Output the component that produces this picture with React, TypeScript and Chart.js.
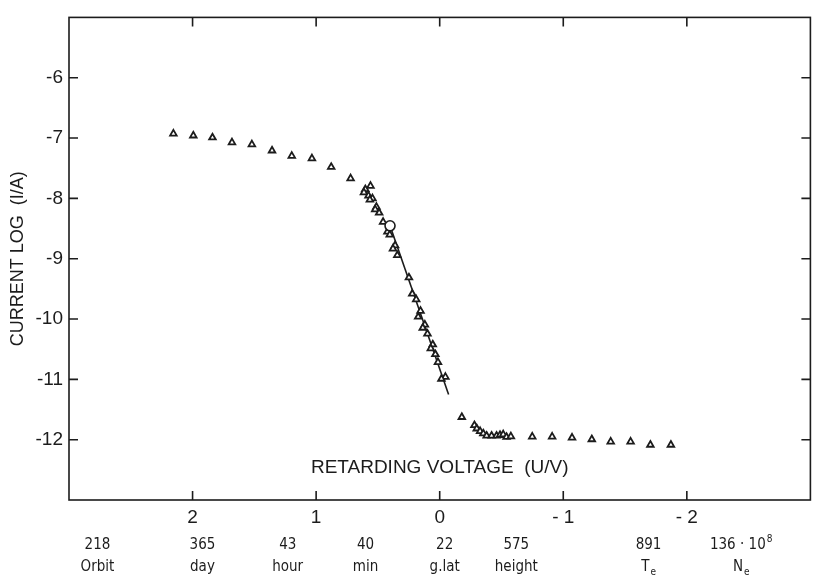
import { useEffect, useRef } from 'react';
import { Chart, registerables } from 'chart.js';

Chart.register(...registerables);

// Measured points: retarding voltage (V) vs log current (I/A)
const voltage = [
  2.155, 1.994, 1.839, 1.681, 1.52, 1.357, 1.197, 1.034, 0.878, 0.721,
  0.56, 0.602, 0.613, 0.576, 0.544, 0.565, 0.512, 0.522, 0.49, 0.458,
  0.423, 0.404, 0.361, 0.378, 0.343, 0.249, 0.222, 0.19, 0.155, 0.174,
  0.12, 0.137, 0.099, 0.056, 0.072, 0.035, 0.014, -0.046, -0.014,
  -0.179, -0.281, -0.3, -0.327, -0.353, -0.38, -0.42, -0.46, -0.488, -0.514,
  -0.541, -0.576, -0.749, -0.91, -1.071, -1.231, -1.384, -1.545, -1.705, -1.871,
];
const logCurrent = [
  -6.927, -6.959, -6.992, -7.073, -7.106, -7.208, -7.296, -7.338, -7.48, -7.67,
  -7.793, -7.849, -7.902, -7.956, -8.0, -8.021, -8.141, -8.184, -8.239, -8.39,
  -8.553, -8.602, -8.78, -8.834, -8.943, -9.312, -9.582, -9.675, -9.865, -9.963,
  -10.093, -10.146, -10.244, -10.423, -10.488, -10.585, -10.715, -10.959, -10.992,
  -11.626, -11.761, -11.816, -11.859, -11.898, -11.935, -11.935, -11.935, -11.924, -11.913,
  -11.956, -11.946, -11.951, -11.951, -11.967, -11.995, -12.033, -12.033, -12.086, -12.086,
];

// Fitted straight line through the retarding region
const fitVoltage = [0.402, -0.072];
const fitLogCurrent = [-8.455, -11.25];

// Marked (circled) point
const markVoltage = [0.402];
const markLogCurrent = [-8.455];

// Axis ticks
const xTickValues = [2, 1, 0, -1, -2];
const yTickValues = [-6, -7, -8, -9, -10, -11, -12];

// Info rows below the chart
const infoValues = ['218', '365', '43', '40', '22', '575', '891', '136 · 10'];
const infoValueSup = ['', '', '', '', '', '', '', '8'];
const infoNames = ['Orbit', 'day', 'hour', 'min', 'g.lat', 'height', 'T', 'N'];
const infoNameSub = ['', '', '', '', '', '', 'e', 'e'];
const infoAtVoltage = [2.77, 1.92, 1.23, 0.6, -0.04, -0.62, -1.69, -2.44];

const INK = '#1c1c1c';
const SANS = "'Liberation Sans', Arial, Helvetica, sans-serif";
const NARROW = "'Liberation Sans Narrow', 'DejaVu Sans Condensed', 'Liberation Sans', sans-serif";

export default function App() {
  const ref = useRef<HTMLCanvasElement>(null);

  useEffect(() => {
    if (!ref.current) return;

    const framePlugin = {
      id: 'framePlugin',
      afterDraw(chart: any) {
        const { ctx, chartArea } = chart;
        const xs = chart.scales.x;
        const ys = chart.scales.y;
        const { left, right, top, bottom } = chartArea;
        ctx.save();
        ctx.strokeStyle = INK;
        ctx.lineWidth = 1.6;
        ctx.strokeRect(left, top, right - left, bottom - top);
        const tl = 9;
        ctx.beginPath();
        xTickValues.forEach((v) => {
          const px = xs.getPixelForValue(v);
          ctx.moveTo(px, bottom);
          ctx.lineTo(px, bottom - tl);
          ctx.moveTo(px, top);
          ctx.lineTo(px, top + tl);
        });
        yTickValues.forEach((v) => {
          const py = ys.getPixelForValue(v);
          ctx.moveTo(left, py);
          ctx.lineTo(left + tl, py);
          ctx.moveTo(right, py);
          ctx.lineTo(right - tl, py);
        });
        ctx.stroke();

        // x axis title inside the plot
        ctx.fillStyle = INK;
        ctx.font = `19px ${SANS}`;
        ctx.textAlign = 'center';
        ctx.textBaseline = 'middle';
        ctx.fillText('RETARDING VOLTAGE  (U/V)', (left + right) / 2, bottom - 32);

        // info rows
        const drawWithScript = (main: string, extra: string, cx: number, cy: number, up: boolean) => {
          ctx.font = `15px ${NARROW}`;
          const wMain = ctx.measureText(main).width;
          ctx.font = `10px ${NARROW}`;
          const wExtra = extra ? ctx.measureText(extra).width + 1 : 0;
          const start = cx - (wMain + wExtra) / 2;
          ctx.textAlign = 'left';
          ctx.font = `15px ${NARROW}`;
          ctx.fillText(main, start, cy);
          if (extra) {
            ctx.font = `10px ${NARROW}`;
            ctx.fillText(extra, start + wMain + 1, up ? cy - 6 : cy + 5);
          }
        };
        ctx.textBaseline = 'middle';
        infoValues.forEach((t, i) => {
          const cx = xs.getPixelForValue(infoAtVoltage[i]);
          drawWithScript(t, infoValueSup[i], cx, 545, true);
          drawWithScript(infoNames[i], infoNameSub[i], cx, 567, false);
        });
        ctx.restore();
      },
    };

    const chart = new Chart(ref.current, {
      type: 'scatter',
      data: {
        datasets: [
          {
            label: 'mark',
            data: markVoltage.map((v, i) => ({ x: v, y: markLogCurrent[i] })),
            pointStyle: 'circle',
            pointRadius: 5,
            pointBorderWidth: 1.6,
            pointBackgroundColor: '#ffffff',
            pointBorderColor: INK,
            order: 0,
          },
          {
            label: 'measured',
            data: voltage.map((v, i) => ({ x: v, y: logCurrent[i] })),
            pointStyle: 'triangle',
            pointRadius: 3.8,
            pointBorderWidth: 1.8,
            pointBackgroundColor: '#ffffff',
            pointBorderColor: INK,
            order: 1,
          },
          {
            label: 'fit',
            data: fitVoltage.map((v, i) => ({ x: v, y: fitLogCurrent[i] })),
            showLine: true,
            borderColor: INK,
            borderWidth: 1.6,
            pointRadius: 0,
            order: 2,
          } as any,
        ],
      },
      options: {
        responsive: false,
        animation: false,
        events: [],
        layout: { padding: { left: 0, right: 5, top: 7, bottom: 0 } },
        plugins: {
          legend: { display: false },
          tooltip: { enabled: false },
          title: { display: false },
        },
        scales: {
          x: {
            type: 'linear',
            min: -3,
            max: 3,
            reverse: true,
            grid: { display: false, drawTicks: false },
            border: { display: false },
            afterBuildTicks: (scale: any) => {
              scale.ticks = xTickValues.map((v) => ({ value: v }));
            },
            afterFit: (scale: any) => {
              scale.height = 76;
            },
            ticks: {
              color: INK,
              padding: 6,
              font: { family: SANS, size: 19 },
              maxRotation: 0,
              autoSkip: false,
              callback: (v: any) => (v < 0 ? '- ' + Math.abs(v) : String(v)),
            },
          },
          y: {
            type: 'linear',
            min: -13,
            max: -5,
            grid: { display: false, drawTicks: false },
            border: { display: false },
            afterBuildTicks: (scale: any) => {
              scale.ticks = yTickValues.map((v) => ({ value: v }));
            },
            afterFit: (scale: any) => {
              scale.width = 69;
            },
            ticks: {
              color: INK,
              padding: 6,
              font: { family: SANS, size: 19 },
              autoSkip: false,
              callback: (v: any) => '-' + Math.abs(v),
            },
            title: {
              display: true,
              text: 'CURRENT LOG  (I/A)',
              color: INK,
              font: { family: SANS, size: 18 },
              padding: { top: 7, bottom: 0 },
            },
          },
        },
      },
      plugins: [framePlugin],
    });

    return () => chart.destroy();
  }, []);

  return (
    <div style={{ position: 'fixed', left: 0, top: 0, width: 817, height: 576, background: '#ffffff' }}>
      <canvas ref={ref} width={817} height={576} style={{ display: 'block' }} />
    </div>
  );
}
